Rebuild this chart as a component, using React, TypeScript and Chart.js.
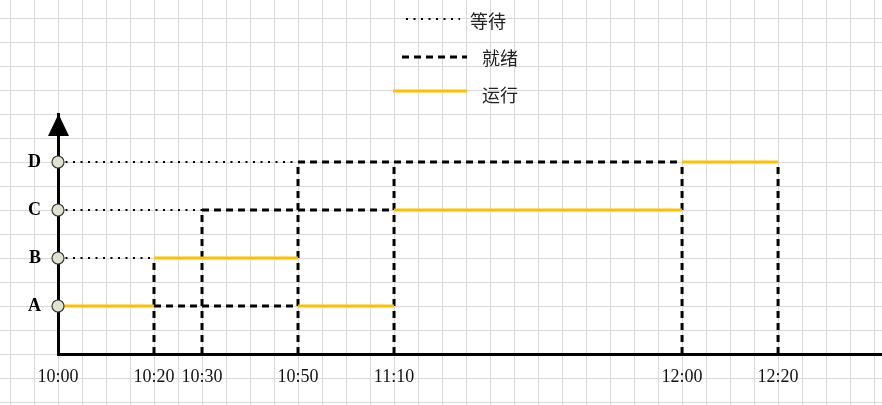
import React, { useEffect, useRef } from 'react';
import { Chart, registerables } from 'chart.js';

Chart.register(...registerables);

// ---- data ----
const processes = ['A', 'B', 'C', 'D'];
const timeLabels = ['10:00', '10:20', '10:30', '10:50', '11:10', '12:00', '12:20'];
// where each time mark sits on the drawn (schematic) time axis, in grid cells
const timePositions = [0, 4, 6, 10, 14, 26, 30];
const axisEnd = 34.33;
const processMax = 5;

// [process, from, to]
const waitingSegments: [string, string, string][] = [
  ['B', '10:00', '10:20'],
  ['C', '10:00', '10:30'],
  ['D', '10:00', '10:50'],
];
const readySegments: [string, string, string][] = [
  ['A', '10:20', '10:50'],
  ['C', '10:30', '11:10'],
  ['D', '10:50', '12:00'],
];
const runningSegments: [string, string, string][] = [
  ['A', '10:00', '10:20'],
  ['B', '10:20', '10:50'],
  ['A', '10:50', '11:10'],
  ['C', '11:10', '12:00'],
  ['D', '12:00', '12:20'],
];
// vertical dashed switch lines: [time, up to process]
const switchLines: [string, string][] = [
  ['10:20', 'B'],
  ['10:30', 'C'],
  ['10:50', 'D'],
  ['11:10', 'D'],
  ['12:00', 'D'],
  ['12:20', 'D'],
];
const legendLabels = ['等待', '就绪', '运行'];

const tx = (t: string) => timePositions[timeLabels.indexOf(t)];
const py = (p: string) => processes.indexOf(p) + 1;

const segData = (segs: [string, string, string][]) =>
  segs.flatMap(([p, a, b]) => [
    { x: tx(a), y: py(p) },
    { x: tx(b), y: py(p) },
    { x: tx(b), y: null },
  ]);
const dropData = (lines: [string, string][]) =>
  lines.flatMap(([t, p]) => [
    { x: tx(t), y: 0 },
    { x: tx(t), y: py(p) },
    { x: tx(t), y: null },
  ]);

const YELLOW = '#FFC000';

const bgGridPlugin = {
  id: 'bgGrid',
  beforeDraw(chart: any) {
    const { ctx, width, height } = chart;
    const xs = chart.scales.x;
    const ys = chart.scales.y;
    ctx.save();
    ctx.fillStyle = '#ffffff';
    ctx.fillRect(0, 0, width, height);
    ctx.strokeStyle = '#d9d9d9';
    ctx.lineWidth = 1;
    ctx.beginPath();
    for (let k = -4; k <= 40; k++) {
      const px = Math.round(xs.getPixelForValue(k)) + 0.5;
      if (px < 0 || px > width) continue;
      ctx.moveTo(px, 0);
      ctx.lineTo(px, height);
    }
    for (let k = -4; k <= 20; k++) {
      const py2 = Math.round(ys.getPixelForValue(k * 0.5)) + 0.5;
      if (py2 < 0 || py2 > height) continue;
      ctx.moveTo(0, py2);
      ctx.lineTo(width, py2);
    }
    ctx.stroke();
    ctx.restore();
  },
};

const arrowPlugin = {
  id: 'arrow',
  afterDraw(chart: any) {
    const { ctx, chartArea } = chart;
    const x = chartArea.left + 0.5;
    const top = chartArea.top;
    ctx.save();
    ctx.fillStyle = '#000';
    ctx.beginPath();
    ctx.moveTo(x, top);
    ctx.lineTo(x - 10.5, top + 22);
    ctx.lineTo(x + 10.5, top + 22);
    ctx.closePath();
    ctx.fill();
    ctx.restore();
  },
};

// legend drawn as a vertical stack at the top centre
const legendLayout = [
  { x1: 406, x2: 460, y: 19, tx: 470, ty: 21 },
  { x1: 402, x2: 467, y: 57, tx: 482, ty: 58 },
  { x1: 393, x2: 467, y: 91, tx: 482, ty: 95 },
];
const legendPlugin = {
  id: 'stackLegend',
  afterDraw(chart: any) {
    const { ctx } = chart;
    ctx.save();
    legendLabels.forEach((label, i) => {
      const ds = chart.data.datasets.find((d: any) => d.label === label);
      const L = legendLayout[i];
      ctx.strokeStyle = ds.borderColor;
      ctx.lineWidth = ds.borderWidth;
      ctx.setLineDash(ds.borderDash || []);
      ctx.beginPath();
      ctx.moveTo(L.x1, L.y);
      ctx.lineTo(L.x2, L.y);
      ctx.stroke();
      ctx.setLineDash([]);
      ctx.fillStyle = '#222';
      ctx.font = '18px "Noto Sans CJK SC"';
      ctx.textAlign = 'left';
      ctx.textBaseline = 'middle';
      ctx.fillText(label, L.tx, L.ty);
    });
    ctx.restore();
  },
};

export default function App() {
  const ref = useRef<HTMLCanvasElement | null>(null);

  useEffect(() => {
    if (!ref.current) return;
    const common = {
      type: 'line',
      pointRadius: 0,
      fill: false,
      tension: 0,
      spanGaps: false,
      clip: false,
      borderCapStyle: 'butt',
    };
    const chart = new Chart(ref.current, {
      type: 'line',
      data: {
        datasets: [
          {
            label: 'markers',
            data: processes.map((p) => ({ x: 0, y: py(p) })),
            showLine: false,
            pointRadius: 6,
            pointBackgroundColor: '#dfe3d0',
            pointBorderColor: '#3a3a3a',
            pointBorderWidth: 1.2,
            clip: false,
            order: 0,
          },
          {
            ...common,
            label: '运行',
            data: segData(runningSegments),
            borderColor: YELLOW,
            borderWidth: 3,
            order: 1,
          },
          {
            ...common,
            label: '就绪',
            data: [...segData(readySegments), ...dropData(switchLines)],
            borderColor: '#000',
            borderWidth: 3,
            borderDash: [7, 5],
            order: 2,
          },
          {
            ...common,
            label: '等待',
            data: segData(waitingSegments),
            borderColor: '#000',
            borderWidth: 2,
            borderDash: [2, 5.5],
            order: 3,
          },
        ] as any,
      },
      options: {
        animation: false,
        responsive: false,
        events: [],
        layout: { autoPadding: false, padding: { top: 114, left: 0, right: 0, bottom: 0 } },
        plugins: {
          legend: { display: false },
          tooltip: { enabled: false },
        },
        scales: {
          x: {
            type: 'linear',
            min: 0,
            max: axisEnd,
            grid: { display: false, drawTicks: false },
            border: { display: true, color: '#000', width: 3 },
            afterBuildTicks: (scale: any) => {
              scale.ticks = timePositions.map((v) => ({ value: v }));
            },
            afterFit: (scale: any) => {
              scale.height = 51;
            },
            ticks: {
              autoSkip: false,
              maxRotation: 0,
              padding: 12,
              color: '#111',
              font: { family: 'Liberation Serif', size: 18 },
              callback: (v: any) => timeLabels[timePositions.indexOf(v)] ?? '',
            },
          },
          y: {
            type: 'linear',
            min: 0,
            max: processMax,
            grid: { display: false, drawTicks: false },
            border: { display: true, color: '#000', width: 3 },
            afterBuildTicks: (scale: any) => {
              scale.ticks = processes.map((_, i) => ({ value: i + 1 }));
            },
            afterFit: (scale: any) => {
              scale.width = 58;
            },
            ticks: {
              padding: 17,
              color: '#000',
              font: { family: 'Liberation Serif', size: 18, weight: 'bold' },
              callback: (v: any) => processes[v - 1] ?? '',
            },
          },
        },
      } as any,
      plugins: [bgGridPlugin, arrowPlugin, legendPlugin],
    });
    return () => chart.destroy();
  }, []);

  return (
    <div style={{ position: 'absolute', left: 0, top: 0, width: 882, height: 405, background: '#fff' }}>
      <canvas ref={ref} width={882} height={405} style={{ display: 'block' }} />
    </div>
  );
}
